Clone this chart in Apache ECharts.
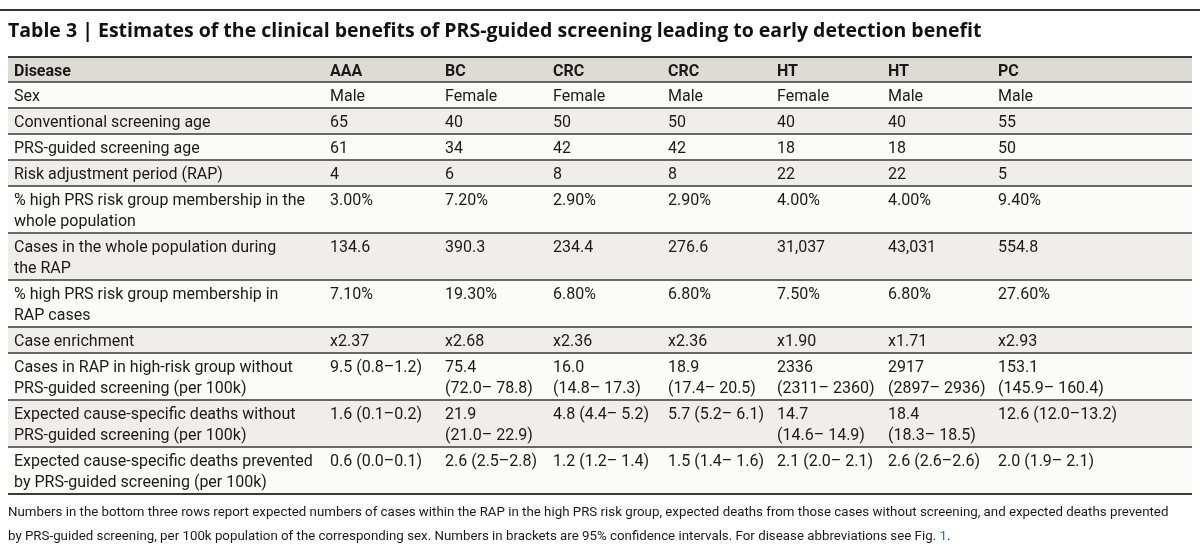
<!DOCTYPE html>
<html><head><meta charset="utf-8">
<script src="https://cdn.jsdelivr.net/npm/echarts@6/dist/echarts.min.js"></script>
<style>html,body{margin:0;padding:0;background:#fff}#c{width:1200px;height:546px}</style>
</head><body><div id="c"></div>
<script>
const title = "Table 3 | Estimates of the clinical benefits of PRS-guided screening leading to early detection benefit";
const header = ["Disease","AAA","BC","CRC","CRC","HT","HT","PC"];
const rowLabels = ["Sex","Conventional screening age","PRS-guided screening age","Risk adjustment period (RAP)",
 "% high PRS risk group membership in the\nwhole population","Cases in the whole population during\nthe RAP",
 "% high PRS risk group membership in\nRAP cases","Case enrichment","Cases in RAP in high-risk group without\nPRS-guided screening (per 100k)",
 "Expected cause-specific deaths without\nPRS-guided screening (per 100k)","Expected cause-specific deaths prevented\nby PRS-guided screening (per 100k)"];
const sexRow = ["Male","Female","Female","Male","Female","Male","Male"];
const convAge = ["65","40","50","50","40","40","55"];
const prsAge = ["61","34","42","42","18","18","50"];
const rap = ["4","6","8","8","22","22","5"];
const pctWhole = ["3.00%","7.20%","2.90%","2.90%","4.00%","4.00%","9.40%"];
const casesWhole = ["134.6","390.3","234.4","276.6","31,037","43,031","554.8"];
const pctRAP = ["7.10%","19.30%","6.80%","6.80%","7.50%","6.80%","27.60%"];
const enrichment = ["x2.37","x2.68","x2.36","x2.36","x1.90","x1.71","x2.93"];
const casesRAP = ["9.5 (0.8–1.2)","75.4\n(72.0– 78.8)","16.0\n(14.8– 17.3)","18.9\n(17.4– 20.5)","2336\n(2311– 2360)","2917\n(2897– 2936)","153.1\n(145.9– 160.4)"];
const deaths = ["1.6 (0.1–0.2)","21.9\n(21.0– 22.9)","4.8 (4.4– 5.2)","5.7 (5.2– 6.1)","14.7\n(14.6– 14.9)","18.4\n(18.3– 18.5)","12.6 (12.0–13.2)"];
const prevented = ["0.6 (0.0–0.1)","2.6 (2.5–2.8)","1.2 (1.2– 1.4)","1.5 (1.4– 1.6)","2.1 (2.0– 2.1)","2.6 (2.6–2.6)","2.0 (1.9– 2.1)"];
const footnote1 = "Numbers in the bottom three rows report expected numbers of cases within the RAP in the high PRS risk group, expected deaths from those cases without screening, and expected deaths prevented";
const footnote2 = "by PRS-guided screening, per 100k population of the corresponding sex. Numbers in brackets are 95% confidence intervals. For disease abbreviations see Fig. ";

const body = [sexRow,convAge,prsAge,rap,pctWhole,casesWhole,pctRAP,enrichment,casesRAP,deaths,prevented];
const FONT = 'Roboto, "Noto Sans", sans-serif';
const colX = [14,330,445,553,668,777,888,998];
const left = 8, right = 1192, top0 = 57;
const g = [];
g.push({type:'line',shape:{x1:0,y1:10,x2:1200,y2:10},style:{stroke:'#333',lineWidth:2}});
g.push({type:'text',x:8,y:31,style:{text:title,font:'bold 19.5px "Open Sans", sans-serif',fill:'#111',textVerticalAlign:'middle'}});
let y = top0;
const rows = [[header[0]].concat(header.slice(1))].concat(body.map((r,i)=>[rowLabels[i]].concat(r)));
rows.forEach((r,ri)=>{
  const lines = Math.max(...r.map(s=>s.split('\n').length));
  const h = ri===0 ? 25 : (lines===1 ? 26 : 47);
  const fill = ri===0 ? '#dddbd3' : (ri%2===0 ? '#efeeea' : '#fbfbf9');
  g.push({type:'rect',shape:{x:left,y:y,width:right-left,height:h},style:{fill:fill}});
  r.forEach((s,ci)=>{
    g.push({type:'text',x:colX[ci],y:y+4,style:{text:s,font:(ri===0?'bold ':'')+'16px '+FONT,fill:'#1a1a1a',lineHeight:21}});
  });
  g.push({type:'line',shape:{x1:left,y1:y,x2:right,y2:y},style:{stroke:'#3a3a3a',lineWidth:ri===0?2:1.5}});
  y += h;
});
g.push({type:'line',shape:{x1:left,y1:y,x2:right,y2:y},style:{stroke:'#3a3a3a',lineWidth:2}});
g.push({type:'text',x:8,y:y+12,style:{text:footnote1,font:'13.3px '+FONT,fill:'#1a1a1a'}});
g.push({type:'text',x:8,y:y+36,style:{rich:{a:{font:'13.3px '+FONT,fill:'#1a1a1a'},b:{font:'13.3px '+FONT,fill:'#2a6fb5'}},text:'{a|'+footnote2+'}{b|1}{a|.}'}});
const chart = echarts.init(document.getElementById('c'));
chart.setOption({animation:false,graphic:g});
</script></body></html>
